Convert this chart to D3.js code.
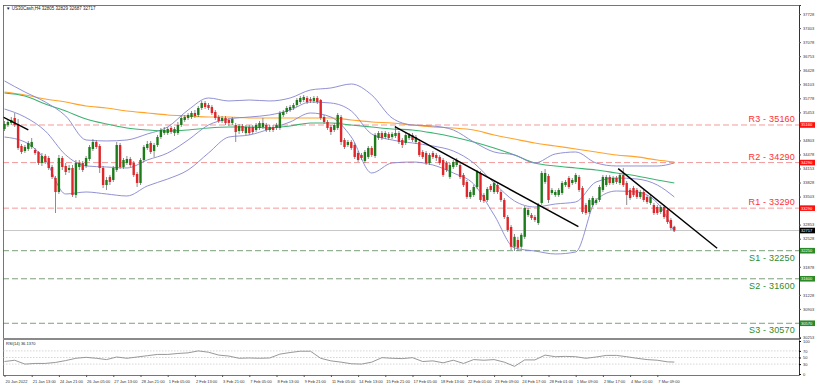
<!DOCTYPE html>
<html><head><meta charset="utf-8">
<script src="https://cdnjs.cloudflare.com/ajax/libs/d3/7.8.5/d3.min.js"></script>
<style>body{margin:0;background:#fff}svg{display:block}text{font-family:"Liberation Sans",Arial,sans-serif}</style>
</head><body><svg id="c" width="817" height="387"></svg>
<script>
// ---- DATA ----
const opens=[35068,35160,35207,35322,35183,34674,34558,34605,34651,34582,
34535,34281,34443,34396,34188,33933,33609,34396,34211,34119,
34165,33540,34188,34281,34211,34373,34605,34767,34674,34165,
33771,33957,33887,34119,34697,34188,34281,34373,34281,34026,
33818,34350,34628,34744,34558,34697,34882,34975,34975,35091,
34975,34975,35160,35276,35322,35345,35438,35392,35554,35669,
35623,35577,35461,35345,35253,35322,35276,35207,35160,35021,
35137,34975,35114,35114,35045,35091,35114,35160,35045,35114,
35091,35091,35392,35461,35507,35554,35623,35693,35739,35785,
35762,35716,35785,35739,35345,35230,35114,35045,35091,35345,
34813,34697,34767,34697,34512,34466,34327,34420,34628,34443,
34859,34975,34882,34952,34882,34906,34975,34813,34744,34859,
34929,34767,34767,34535,34512,34281,34512,34466,34420,34350,
34281,33957,34188,34234,34234,34003,33841,33494,33540,33725,
34049,33540,33424,33748,33609,33771,33609,33424,33030,32799,
32341,32498,32341,32571,33077,33077,33030,32892,33355,33841,
33980,33586,33540,33540,33586,33771,33933,33818,33841,33957,
33702,33308,33146,33308,33355,33424,33656,33771,33957,33818,
33933,33818,34003,33818,33656,33702,33656,33494,33609,33494,
33355,33308,33262,33146,33262,33193,32961,32805];
const highs=[35253,35276,35345,35438,35299,34720,34697,34790,34859,34628,
34558,34512,34489,34443,34234,33980,34466,34443,34281,34234,
34234,34350,34350,34327,34443,34697,34836,34813,34720,34211,
33957,34003,34211,34767,34744,34396,34443,34420,34327,34072,
34396,34697,34790,34790,34744,34929,35091,35114,35114,35137,
35114,35230,35369,35392,35438,35484,35507,35600,35716,35716,
35669,35623,35507,35392,35369,35369,35322,35345,35207,35183,
35183,35160,35160,35160,35207,35253,35322,35207,35160,35160,
35207,35484,35507,35600,35623,35669,35785,35831,35854,35831,
35808,35831,35831,35762,35392,35276,35160,35207,35438,35392,
34859,34813,34813,34744,34558,34512,34582,34674,34674,34975,
35021,35021,35021,34998,34998,35137,35021,34859,34975,34975,
34975,34929,34813,34582,34558,34512,34558,34512,34466,34396,
34327,34281,34350,34396,34281,34049,33887,33656,33771,34119,
34095,33586,33725,33794,33864,33818,33656,33470,33077,32845,
32637,32571,32660,33285,33239,33123,33077,33355,34095,34142,
34026,33702,33656,33702,33864,33887,33980,33933,34049,34003,
33748,33355,33470,33517,33470,33771,34003,34003,34003,33980,
33980,34049,34165,33864,33702,33748,33702,33656,33656,33540,
33540,33355,33308,33308,33308,33239,33007,32829];
const lows=[35021,35114,35160,35114,34582,34489,34512,34558,34605,34466,
34234,34211,34258,34119,33910,33123,33563,34119,34003,34049,
33494,33470,34119,34072,34165,34327,34558,34605,34049,33702,
33656,33771,33841,34072,34142,34142,34234,34188,33957,33725,
33771,34304,34582,34489,34420,34651,34836,34929,34929,34952,
34906,34929,35114,35230,35276,35299,35322,35345,35507,35531,
35507,35392,35276,35207,35207,35160,35137,35160,34767,34952,
34975,34929,34929,34952,34998,35045,35068,34998,34998,34998,
35045,35045,35345,35415,35461,35507,35577,35646,35693,35646,
35669,35669,35646,35276,35183,35045,34929,34998,35045,34697,
34605,34651,34582,34373,34304,34350,34281,34373,34420,34396,
34813,34813,34836,34813,34836,34859,34720,34628,34697,34813,
34767,34720,34420,34373,34234,34234,34373,34327,34234,33957,
34072,33910,34142,34188,33910,33725,33447,33447,33494,33679,
33378,33355,33378,33609,33563,33563,33378,32984,32683,32266,
32243,32243,32295,32521,33030,32961,32915,32845,33308,33794,
33355,33540,33494,33494,33540,33725,33679,33771,33794,33609,
33100,33077,33100,33262,33308,33378,33609,33725,33771,33771,
33794,33771,33725,33308,33424,33494,33447,33447,33378,33331,
33308,33077,33077,33100,32984,32868,32730,32687];
const closes=[35183,35230,35276,35160,34628,34535,34651,34744,34767,34512,
34281,34443,34304,34165,33957,33609,34396,34188,34072,34165,
33540,34281,34281,34119,34396,34651,34767,34651,34165,33771,
33887,33841,34165,34697,34188,34350,34373,34234,34003,33818,
34350,34651,34720,34535,34697,34882,35045,35045,35068,34998,
35068,35160,35322,35345,35392,35438,35369,35554,35669,35577,
35554,35438,35322,35253,35322,35207,35207,35299,34998,35137,
35021,35114,34975,34998,35160,35207,35207,35045,35114,35045,
35160,35438,35461,35554,35577,35623,35739,35785,35808,35693,
35716,35785,35693,35322,35230,35091,34998,35160,35392,34767,
34651,34767,34628,34420,34350,34396,34535,34628,34466,34929,
34975,34859,34975,34859,34952,34975,34767,34697,34929,34929,
34813,34882,34466,34420,34281,34466,34420,34396,34281,34003,
34119,34234,34304,34350,33957,33771,33494,33609,33725,34072,
33424,33401,33679,33656,33818,33609,33424,33030,32730,32341,
32571,32318,32617,33239,33193,33007,32961,33308,34049,34049,
33424,33656,33609,33656,33818,33841,33725,33887,34003,33656,
33146,33123,33424,33470,33424,33725,33957,33957,33818,33933,
33841,34003,33771,33540,33470,33540,33494,33609,33424,33378,
33494,33123,33123,33262,33030,32915,32776,32717];

const timeTickBars=[0,8,16,24,32,40,48,56,64,72,80,88,96,104,112,120,128,136,144,152,160,168,176,184,192];
const timeLabels=["20 Jan 2022","21 Jan 13:00","24 Jan 21:00","26 Jan 05:00","27 Jan 13:00","28 Jan 21:00","1 Feb 05:00","2 Feb 13:00","3 Feb 21:00","7 Feb 05:00","8 Feb 13:00","9 Feb 21:00","11 Feb 05:00","14 Feb 13:00","15 Feb 21:00","17 Feb 05:00","18 Feb 13:00","22 Feb 01:00","23 Feb 09:00","24 Feb 17:00","28 Feb 01:00","1 Mar 09:00","2 Mar 17:00","4 Mar 01:00","7 Mar 09:00"];
const priceTicks=[37728,37403,37078,36753,36428,36103,35778,35453,35128,34803,34478,34153,33828,33503,33178,32853,32528,32203,31878,31553,31228,30903,30578,30253];

const indicatorBars=[0,6,12,18,24,30,36,42,48,54,60,66,72,78,84,90,96,102,108,114,120,126,132,138,144,150,156,162,168,174,180,186,192,197];
const bbUpper=[36179,35924,35692,35368,34813,34790,34813,34952,35114,35507,35785,35716,35739,35716,35785,35970,36017,36109,35855,35322,35160,35137,35045,34767,34535,34466,34281,34489,34535,34281,34211,34211,34211,34281];
const bbMiddle=[35530,35345,35021,34466,34211,34188,34165,34350,34512,34813,35160,35299,35345,35392,35507,35692,35669,35484,34952,34813,34744,34674,34558,34281,33817,33401,33262,33331,33378,33841,33933,33910,33771,33494];
const bbLower=[34882,34767,34350,33563,33609,33563,33517,33748,33910,34119,34512,34882,34929,35068,35230,35438,35345,34882,34049,34281,34304,34234,34049,33794,33077,32313,32243,32174,32220,33424,33632,33609,33355,32683];
const maGreen=[35901,35831,35646,35484,35299,35183,35091,35045,35021,35045,35091,35114,35114,35091,35137,35206,35206,35160,35114,35068,35045,34975,34882,34767,34628,34466,34281,34211,34165,34119,34049,33980,33887,33817];
const maOrange=[35924,35855,35762,35692,35600,35554,35484,35438,35392,35368,35345,35345,35322,35322,35322,35322,35322,35276,35230,35206,35160,35114,35091,35045,34929,34836,34744,34674,34605,34535,34466,34420,34350,34304];

const rsiBars=[0,3,6,9,12,15,18,21,24,27,30,33,36,39,42,45,48,51,54,57,60,63,66,69,72,75,78,81,84,87,90,93,96,99,102,105,108,111,114,117,120,123,126,129,132,135,138,141,144,147,150,153,156,159,162,165,168,171,174,177,180,183,186,189,192,195,197];
const rsiValues=[37.8,41.7,30,32,32,35,40.7,47.6,50.5,47.6,43.7,51.5,47.6,51.5,55.4,59.3,59.3,62.2,64.1,70,66,57.3,54.4,47.6,48.5,47.6,48.5,60.2,65.1,69,69,47.6,39.8,35.9,31,30,35.9,49.5,47.6,46.6,49.5,37.8,39.8,33.9,41.7,32,43.7,41.7,43.7,35.9,23.2,42.7,42.7,57.3,52.4,53.4,52.4,47.6,51.5,56.3,56.3,52.4,47.6,43.7,41.7,36.8,36.1];
const rsiLevels=[70,50,30];
const rsiAxisTicks=[100,70,50,30,0];

const levelNames=["R3","R2","R1","S1","S2","S3"];
const levelValues=[35160,34290,33290,32250,31600,30570];
const levelLinePrices=[35160,34290,33235,32250,31600,30570];

const trendStartBar=[-0.4,114.8,180.5], trendStartPrice=[35345,35121,34151];
const trendEndBar=[7.0,168.8,209.6], trendEndPrice=[35045,32806,32306];

const symbolTitle="US30Cash,H4";
const lastBar={o:32805,h:32829,l:32687,c:32717};
const rsiTitle="RSI(14) 36.1370";

// ---- LAYOUT ----
const svg=d3.select("#c");
const L=3,R=799,T=5,MB=338,RT=340,RB=375;
const x=d3.scaleLinear().domain([0,197]).range([4.5,674.3]);
const y=d3.scaleLinear().domain([30229,37938]).range([MB,T]);
const ry=d3.scaleLinear().domain([0,100]).range([374,341]);

svg.append("defs").append("clipPath").attr("id","mc").append("rect").attr("x",L).attr("y",T).attr("width",R-L).attr("height",MB-T);
svg.select("defs").append("clipPath").attr("id","rc").append("rect").attr("x",L).attr("y",RT).attr("width",R-L).attr("height",RB-RT);

const main=svg.append("g").attr("clip-path","url(#mc)");

levelNames.forEach((n,i)=>{
  const isR=n[0]==="R";
  main.append("line").attr("x1",L).attr("x2",R).attr("y1",y(levelLinePrices[i])).attr("y2",y(levelLinePrices[i]))
    .attr("stroke",isR?"#f49a9a":"#7d9f7d").attr("stroke-width",1).attr("stroke-dasharray","6,3");
});
main.append("line").attr("x1",L).attr("x2",R).attr("y1",y(lastBar.c)).attr("y2",y(lastBar.c)).attr("stroke","#c8c8c8").attr("stroke-width",1);

const lineGen=(arr)=>d3.line().x((d,i)=>x(indicatorBars[i])).y(d=>y(d)).curve(d3.curveMonotoneX)(arr);
main.append("path").attr("d",lineGen(maOrange)).attr("fill","none").attr("stroke","#ffa32b").attr("stroke-width",1.2);
main.append("path").attr("d",lineGen(maGreen)).attr("fill","none").attr("stroke","#3cb371").attr("stroke-width",1.1);
[bbUpper,bbMiddle,bbLower].forEach(a=>{
  main.append("path").attr("d",lineGen(a)).attr("fill","none").attr("stroke","#8585cf").attr("stroke-width",0.9);
});

const cg=main.append("g");
closes.forEach((c,i)=>{
  const o=opens[i],up=c>=o,cx=x(i);
  cg.append("line").attr("x1",cx).attr("x2",cx).attr("y1",y(highs[i])).attr("y2",y(lows[i])).attr("stroke","#6f6f6f").attr("stroke-width",0.8);
  const top=y(Math.max(o,c)),bot=y(Math.min(o,c));
  cg.append("rect").attr("x",cx-1.2).attr("width",2.4).attr("y",top).attr("height",Math.max(1,bot-top))
    .attr("fill",up?"#1c7c1c":"#e0262a");
});

trendStartBar.forEach((b,i)=>{
  main.append("line").attr("x1",x(b)).attr("y1",y(trendStartPrice[i])).attr("x2",x(trendEndBar[i])).attr("y2",y(trendEndPrice[i]))
    .attr("stroke","#000").attr("stroke-width",1.4);
});

levelNames.forEach((n,i)=>{
  const isR=n[0]==="R",ly=y(levelLinePrices[i]);
  svg.append("text").attr("x",795).attr("y",isR?ly-3:ly+10).attr("text-anchor","end")
    .attr("font-size",9).attr("fill",isR?"#ff3030":"#2e8b2e").attr("letter-spacing",0.2)
    .text(n+" - "+levelValues[i]);
});

svg.append("rect").attr("x",L+0.5).attr("y",T+0.5).attr("width",R-L).attr("height",RB-T).attr("fill","none").attr("stroke","#555").attr("stroke-width",0.8);
svg.append("rect").attr("x",L).attr("y",MB).attr("width",R-L).attr("height",2).attr("fill","#8a8a8a");

// price axis: labels hidden behind the axis boxes are not drawn (as in the terminal)
const boxYs=levelLinePrices.map(p=>y(p)).concat([y(lastBar.c)]);
const shownTicks=priceTicks.filter(t=>boxYs.every(by=>Math.abs(y(t)-by)>5));
const ax=svg.append("g").attr("transform",`translate(${R},0)`).call(d3.axisRight(y).tickValues(shownTicks).tickSize(2).tickFormat(d3.format("d")));
ax.select(".domain").attr("stroke","#333");
ax.selectAll("text").attr("font-size",4).attr("fill","#333").attr("x",4);
ax.selectAll("line").attr("stroke","#555");

levelNames.forEach((n,i)=>{
  const isR=n[0]==="R",ly=y(levelLinePrices[i]);
  svg.append("rect").attr("x",R+1).attr("y",ly-2.8).attr("width",15).attr("height",5.6).attr("fill",isR?"#ff1010":"#2a8a2a");
  svg.append("text").attr("x",R+2).attr("y",ly+1.5).attr("font-size",4).attr("fill","#fff").text(levelValues[i]);
});
svg.append("rect").attr("x",R+1).attr("y",y(lastBar.c)-2.8).attr("width",15).attr("height",5.6).attr("fill","#000");
svg.append("text").attr("x",R+2).attr("y",y(lastBar.c)+1.5).attr("font-size",4).attr("fill","#fff").text(lastBar.c);

svg.append("text").attr("x",6).attr("y",10).attr("font-size",4.5).attr("fill","#222")
  .text("\u25BC "+symbolTitle+"  "+lastBar.o+" "+lastBar.h+" "+lastBar.l+" "+lastBar.c);

const rp=svg.append("g").attr("clip-path","url(#rc)");
rsiLevels.forEach(v=>{
  rp.append("line").attr("x1",L).attr("x2",R).attr("y1",ry(v)).attr("y2",ry(v)).attr("stroke","#bbb").attr("stroke-width",0.6).attr("stroke-dasharray","1.5,1.5");
});
rp.append("path").attr("d",d3.line().x((d,i)=>x(rsiBars[i])).y(d=>ry(d))(rsiValues)).attr("fill","none").attr("stroke","#8c8c8c").attr("stroke-width",0.9);
svg.append("text").attr("x",6).attr("y",345).attr("font-size",4).attr("fill","#222").text(rsiTitle);
const rax=svg.append("g").attr("transform",`translate(${R},0)`).call(d3.axisRight(ry).tickValues(rsiAxisTicks).tickSize(2));
rax.select(".domain").attr("stroke","#333");
rax.selectAll("text").attr("font-size",4).attr("fill","#333").attr("x",4);

const tx=svg.append("g").attr("transform",`translate(0,${RB})`).call(d3.axisBottom(x).tickValues(timeTickBars).tickSize(2).tickFormat((d,i)=>timeLabels[i]));
tx.select(".domain").remove();
tx.selectAll("text").attr("font-size",4).attr("fill","#333").attr("text-anchor","start").attr("dx",0.5).attr("y",5);
tx.selectAll("line").attr("stroke","#555");
</script></body></html>
